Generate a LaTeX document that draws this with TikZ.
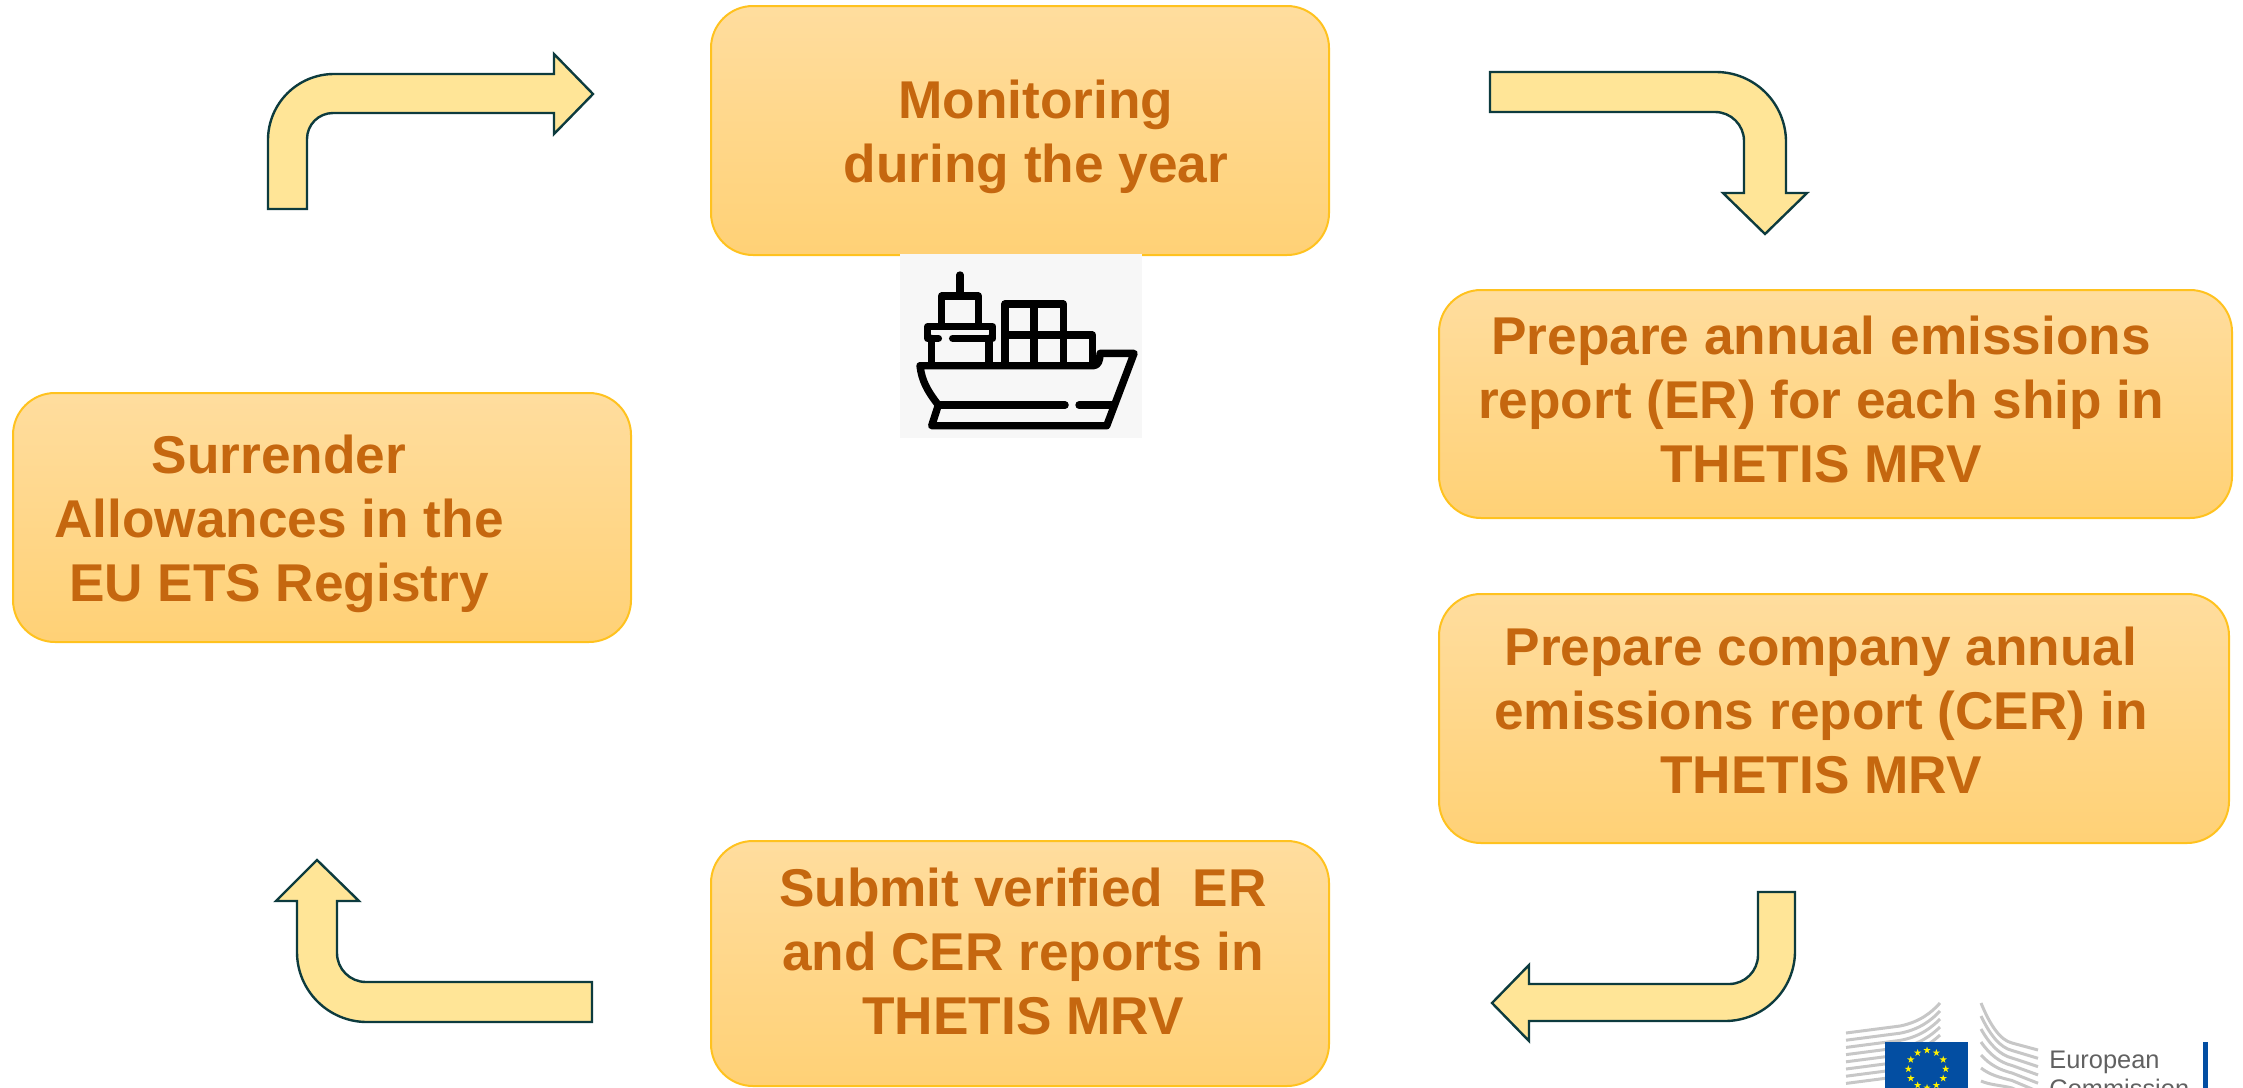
\documentclass[tikz,border=0pt]{standalone}
\usepackage{fontspec}
\setmainfont{Liberation Sans}
\usetikzlibrary{shapes.geometric}
\definecolor{BoxTop}{HTML}{FFDD9E}
\definecolor{BoxBottom}{HTML}{FFD176}
\definecolor{BoxLine}{HTML}{FFC21F}
\definecolor{BoxText}{HTML}{C5670F}
\definecolor{ArrowFill}{HTML}{FFE597}
\definecolor{ArrowLine}{HTML}{0D3B3E}
\definecolor{FlagBlue}{HTML}{034EA2}
\begin{document}
\begin{tikzpicture}[x=0.5pt,y=-0.5pt]
		\useasboundingbox (0,0) rectangle (2243,1087);
		\clip (0,0) rectangle (2243,1087);
		
		\tikzset{BoxStyle/.style 2 args = {draw = BoxLine, line width = 1pt, rounded corners = 21pt, top color = BoxTop, bottom color = BoxBottom, minimum width = #1*0.5pt, minimum height = #2*0.5pt, inner sep = 0pt}}
		\tikzset{LabelStyle/.style = {text = BoxText, font = \fontsize{26.6}{32}\selectfont\bfseries, align = center}}
		\tikzset{ArrowStyle/.style = {draw = ArrowLine, fill = ArrowFill, line width = 1.2pt, line join = miter}}
		\tikzset{ShipStyle/.style = {draw = black, line width = 3.7pt, line cap = round, line join = round}}
		
		\node[BoxStyle={618}{249}] (Monitor) at (1020,130.5) {};
		\node[BoxStyle={793}{228}] (Report) at (1835.5,404) {};
		\node[BoxStyle={790}{249}] (Company) at (1834,718.5) {};
		\node[BoxStyle={618}{245}] (Submit) at (1020,963.5) {};
		\node[BoxStyle={618}{249}] (Surrender) at (322,517.5) {};
		
		\node[LabelStyle] (MonitorText) at (1036,137) {Monitoring\\during the year};
		\node[LabelStyle] (ReportText) at (1821,399) {Prepare annual emissions\\report (ER) for each ship in\\THETIS MRV};
		\node[LabelStyle] (CompanyText) at (1821,710) {Prepare company annual\\emissions report (CER) in\\THETIS MRV};
		\node[LabelStyle] (SubmitText) at (1023,951) {Submit verified\ \ ER\\and CER reports in\\THETIS MRV};
		\node[LabelStyle] (SurrenderText) at (279,524) {Surrender\\Allowances in the\\EU ETS Registry};
		
		% bent arrows
		\draw[ArrowStyle] (268,209) [rounded corners=33pt] -- (268,74) [sharp corners] -- (554,74) -- (554,54) -- (593,94) -- (554,134) -- (554,113) [rounded corners=13pt] -- (307,113) [sharp corners] -- (307,209) -- cycle;
		\draw[ArrowStyle] (1490,72) [rounded corners=35pt] -- (1786,72) [sharp corners] -- (1786,193) -- (1807,193) -- (1765,234) -- (1723,193) -- (1744,193) [rounded corners=14.5pt] -- (1744,112) [sharp corners] -- (1490,112) -- cycle;
		\draw[ArrowStyle] (1795,892) [rounded corners=35pt] -- (1795,1021) [sharp corners] -- (1529,1021) -- (1529,1041) -- (1492,1003) -- (1529,965) -- (1529,984) [rounded corners=14.5pt] -- (1758,984) [sharp corners] -- (1758,892) -- cycle;
		\draw[ArrowStyle] (592,1022) [rounded corners=35pt] -- (297,1022) [sharp corners] -- (297,901) -- (276,901) -- (317,860) -- (359,901) -- (337,901) [rounded corners=14.5pt] -- (337,982) [sharp corners] -- (592,982) -- cycle;
		
		% ship
		\fill[black!3] (900,254) rectangle (1142,438);
		\begin{scope}[shift={(880,240)},x=0.1667pt,y=-0.1667pt]
			\draw[ShipStyle] (240,105) -- (240,165);
			\draw[ShipStyle] (185,252) -- (185,168) -- (295,168) -- (295,252);
			\draw[ShipStyle] (175,295) -- (143,295) -- (143,260) -- (338,260) -- (338,295) -- (218,295);
			\draw[ShipStyle] (155,295) -- (155,375);
			\draw[ShipStyle] (327,295) -- (327,375);
			\draw[ShipStyle] (375,375) -- (375,192) -- (550,192) -- (550,375);
			\draw[ShipStyle] (375,285) -- (637,285) -- (637,372);
			\draw[ShipStyle] (462,192) -- (462,375);
			\draw[ShipStyle] (120,377) -- (640,377) .. controls (655,377) and (660,360) .. (660,340) -- (762,340) -- (680,557) -- (155,557) -- (175,495) .. controls (140,450) and (125,420) .. (120,377);
			\draw[ShipStyle] (175,495) -- (555,495);
			\draw[ShipStyle] (597,495) -- (695,495);
		\end{scope}
		
		% logo
		\foreach \i in {0,...,7}
			\draw[black!22, line width = 1.5pt] (1846,1033+7.2*\i) -- (1900,1026+7.2*\i) .. controls (1920,1022+7.4*\i) and (1932,1012+7.6*\i) .. (1940,1003+8*\i);
		\foreach \i in {0,...,6}
			\draw[black!22, line width = 1.5pt] (1981,1003+13*\i) .. controls (1990,1025+10*\i) and (2000,1040+7.5*\i) .. (2012,1043+7.5*\i) -- (2038,1050+8.3*\i);
		\fill[FlagBlue] (1885,1042) rectangle (1968,1100);
		\foreach \a in {0,30,...,330}
			\node[star, star points = 5, star point ratio = 2.6, fill = yellow, inner sep = 0pt, minimum size = 3.8pt] (Star\a) at ([shift={(\a:18.7)}]1927,1069) {};
		\fill[FlagBlue] (2203,1042) rectangle (2208,1100);
		\node[text = black!62, font = \fontsize{12.7}{14.5}\selectfont, align = left, anchor = north west, inner sep = 0pt] (LogoText) at (2049,1051) {European\\Commission};
\end{tikzpicture}
\end{document}
